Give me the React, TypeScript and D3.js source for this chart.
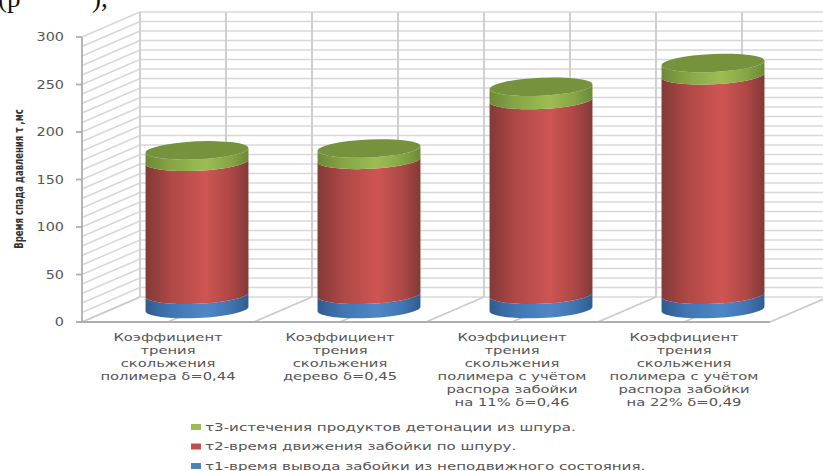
import React from "react";
import * as d3 from "d3";

const categories = [
  ["Коэффициент", "трения", "скольжения", "полимера δ=0,44"],
  ["Коэффициент", "трения", "скольжения", "дерево δ=0,45"],
  ["Коэффициент", "трения", "скольжения", "полимера с учётом", "распора забойки", "на 11% δ=0,46"],
  ["Коэффициент", "трения", "скольжения", "полимера с учётом", "распора забойки", "на 22% δ=0,49"],
];
const tau1 = [15, 15, 15, 15];
const tau2 = [140, 142, 205, 231];
const tau3 = [12, 12, 14, 13];
const seriesColors = [
  { id: "blue", edge: "#2f5c90", soft: "#4176b3", mid: "#4f86c6" },
  { id: "red", edge: "#823a38", soft: "#ae4846", mid: "#cf5553" },
  { id: "green", edge: "#6c8a36", soft: "#86a646", mid: "#9cbd54" },
];
const topColor = "#76923c";
const legendItems = [
  { label: "τ3-истечения продуктов детонации из шпура.", color: "#9bbb59" },
  { label: "τ2-время движения забойки по шпуру.", color: "#c0504d" },
  { label: "τ1-время вывода забойки из неподвижного состояния.", color: "#4f81bd" },
];
const valueTicks = [0, 50, 100, 150, 200, 250, 300];
const minorTicks = d3.range(0, 301, 10);

const W = 823;
const H = 471;
const front = { x0: 82, x1: 770, y0: 322, y1: 37 };
const depth = { x: 58, y: -25 };
const RX = 51.5;
const RY = 9;
const TILT = -2.6;
const WIDE = 1.34;

const y = d3.scaleLinear().domain([0, 300]).range([front.y0, front.y1]);
const band = d3.scaleBand<number>().domain([0, 1, 2, 3]).range([front.x0, front.x1]);
const step = band.step();
const labelFont = "'DejaVu Sans', sans-serif";

// Side surface of one cylinder segment between two stacked values.
function segmentPath(cx: number, yBottom: number, yTop: number) {
  const t = (TILT * Math.PI) / 180;
  const dx = RX * Math.cos(t);
  const dy = RX * Math.sin(t);
  return `M${cx - dx},${yTop - dy} L${cx - dx},${yBottom - dy} A${RX},${RY} ${TILT} 0 0 ${cx + dx},${yBottom + dy} L${cx + dx},${yTop + dy} A${RX},${RY} ${TILT} 0 1 ${cx - dx},${yTop - dy} Z`;
}

export default function App() {
  const stacks = categories.map((_, i) => [tau1[i], tau2[i], tau3[i]]);
  return (
    <svg width={W} height={H} style={{ position: "absolute", left: 0, top: 0, background: "#fff" }}>
      <defs>
        {seriesColors.map((c) => (
          <linearGradient key={c.id} id={c.id} x1="0" x2="1" y1="0" y2="0">
            <stop offset="0" stopColor={c.edge} />
            <stop offset="0.25" stopColor={c.soft} />
            <stop offset="0.58" stopColor={c.mid} />
            <stop offset="0.82" stopColor={c.soft} />
            <stop offset="1" stopColor={c.edge} />
          </linearGradient>
        ))}
      </defs>

      <text x={-2} y={7} fontFamily="'Liberation Serif', serif" fontSize={27} fill="#111">(р</text>
      <text x={92} y={7} fontFamily="'Liberation Serif', serif" fontSize={27} fill="#111">),</text>

      {/* back wall and side wall gridlines */}
      {minorTicks.map((v) => (
        <g key={v} stroke="#d8d8d8" strokeWidth={1.5} fill="none">
          <line x1={front.x0 + depth.x} x2={W + 10} y1={y(v) + depth.y} y2={y(v) + depth.y} />
          <line x1={front.x0} y1={y(v)} x2={front.x0 + depth.x} y2={y(v) + depth.y} />
        </g>
      ))}
      {d3.range(0, 9).map((k) => {
        const fx = front.x0 + (k * step) / 2;
        return (
          <g key={k} stroke="#cbcbcb" strokeWidth={1.8} fill="none">
            <line x1={fx + depth.x} x2={fx + depth.x} y1={y(0) + depth.y} y2={y(300) + depth.y} />
            <line x1={fx} y1={y(0)} x2={fx + depth.x} y2={y(0) + depth.y} />
          </g>
        );
      })}

      {/* value axis and base line */}
      <g stroke="#aeaeae" strokeWidth={1.8}>
        <line x1={front.x0} x2={front.x0} y1={y(0)} y2={y(300)} />
        <line x1={front.x0 - 4} x2={front.x1} y1={y(0)} y2={y(0)} />
        {valueTicks.map((v) => (
          <line key={v} x1={front.x0 - 6} x2={front.x0} y1={y(v)} y2={y(v)} />
        ))}
      </g>
      {valueTicks.map((v) => (
        <text
          key={v}
          transform={`translate(64,${y(v) + 4}) scale(1.25,1)`}
          textAnchor="end"
          fontFamily={labelFont}
          fontSize={11.5}
          fill="#555"
        >
          {v}
        </text>
      ))}
      <text
        transform="translate(23,179) rotate(-90) scale(0.68,1)"
        textAnchor="middle"
        fontFamily={labelFont}
        fontSize={12.5}
        fontWeight="bold"
        fill="#333"
      >
        Время спада давления τ ,мс
      </text>

      {/* stacked cylinders */}
      {stacks.map((vals, i) => {
        const cx = band(i)! + step / 2 + depth.x / 2;
        const off = depth.y / 2 - 0.5;
        const cum = d3.cumsum(vals);
        return (
          <g key={i}>
            {vals.map((v, s) => (
              <path
                key={s}
                d={segmentPath(cx, y(cum[s] - v) + off, y(cum[s]) + off)}
                fill={`url(#${seriesColors[s].id})`}
              />
            ))}
            <ellipse
              cx={cx}
              cy={y(cum[2]) + off}
              rx={RX}
              ry={RY}
              transform={`rotate(${TILT} ${cx} ${y(cum[2]) + off})`}
              fill={topColor}
            />
          </g>
        );
      })}

      {/* category labels */}
      {categories.map((lines, i) => (
        <g key={i}>
          {lines.map((ln, j) => (
            <text
              key={j}
              transform={`translate(${band(i)! + step / 2},${341 + j * 12.9}) scale(${WIDE},1)`}
              textAnchor="middle"
              fontFamily={labelFont}
              fontSize={11}
              fill="#555"
            >
              {ln}
            </text>
          ))}
        </g>
      ))}

      {/* legend */}
      {legendItems.map((it, i) => (
        <g key={i}>
          <rect x={191} y={424 + i * 19.5} width={10} height={6} fill={it.color} />
          <text
            transform={`translate(205,${430.5 + i * 19.5}) scale(1.37,1)`}
            fontFamily={labelFont}
            fontSize={11}
            fill="#555"
          >
            {it.label}
          </text>
        </g>
      ))}
    </svg>
  );
}
